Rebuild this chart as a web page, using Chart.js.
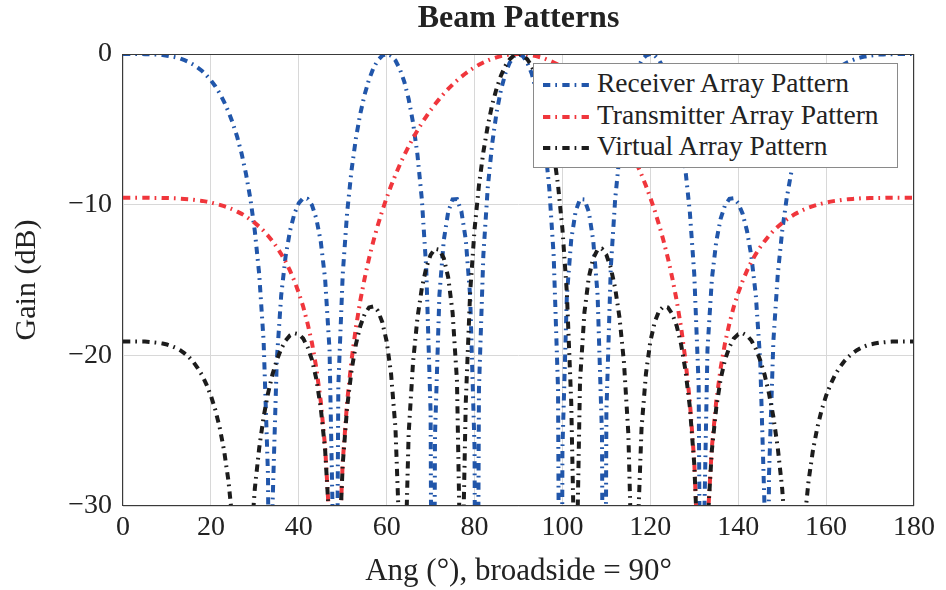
<!DOCTYPE html>
<html>
<head>
<meta charset="utf-8">
<script src="https://cdn.jsdelivr.net/npm/chart.js@4.4.1/dist/chart.umd.min.js"></script>
<style>
html,body{margin:0;padding:0;background:#fff;}
#wrap{position:relative;width:946px;height:590px;}
#legend{position:absolute;left:533px;top:63px;width:365px;height:105px;box-sizing:border-box;border:1px solid #8a8a8a;background:#fff;font-family:'Liberation Serif',serif;font-size:27.5px;color:#222;}
.row{position:absolute;left:0;width:360px;height:30px;}
.row svg{position:absolute;left:9px;top:13px;}
.row span{position:absolute;left:63px;top:-1px;line-height:30px;white-space:nowrap;}
</style>
</head>
<body>
<div id="wrap">
<canvas id="c" width="946" height="590"></canvas>
<div id="legend"></div>
</div>
<script>
// ---- data ----
const angles = [0,1,2,3,4,5,6,7,8,9,10,11,12,13,14,15,16,17,18,19,20,21,22,23,24,25,26,27,28,29,30,31,32,33,34,35,36,37,38,39,40,41,42,43,44,45,46,47,48,49,50,51,52,53,54,55,56,57,58,59,60,61,62,63,64,65,66,67,68,69,70,71,72,73,74,75,76,77,78,79,80,81,82,83,84,85,86,87,88,89,90,91,92,93,94,95,96,97,98,99,100,101,102,103,104,105,106,107,108,109,110,111,112,113,114,115,116,117,118,119,120,121,122,123,124,125,126,127,128,129,130,131,132,133,134,135,136,137,138,139,140,141,142,143,144,145,146,147,148,149,150,151,152,153,154,155,156,157,158,159,160,161,162,163,164,165,166,167,168,169,170,171,172,173,174,175,176,177,178,179,180];

const receiverGain = [
0,0,0,0,0,-0.01,-0.01,-0.03,-0.04,-0.07,
-0.11,-0.16,-0.22,-0.30,-0.41,-0.54,-0.70,-0.90,-1.13,-1.42,
-1.75,-2.14,-2.61,-3.17,-3.83,-4.60,-5.52,-6.62,-7.97,-9.63,
-11.76,-14.63,-19.06,-28.00,-30.20,-20.31,-16.01,-13.44,-11.74,-10.60,
-9.90,-9.57,-9.61,-10.03,-10.93,-12.44,-14.95,-19.63,-35.02,-22.02,
-14.63,-10.53,-7.73,-5.59,-3.96,-2.68,-1.68,-0.93,-0.41,-0.10,
0,-0.11,-0.43,-1.00,-1.83,-2.99,-4.55,-6.67,-9.63,-14.19,
-23.78,-25.29,-15.99,-12.36,-10.48,-9.65,-9.63,-10.44,-12.32,-16.08,
-26.19,-22.26,-13.36,-8.89,-5.97,-3.90,-2.39,-1.30,-0.57,-0.14,
0,
-0.14,-0.57,-1.30,-2.39,-3.90,-5.97,-8.89,-13.36,-22.26,-26.19,
-16.08,-12.32,-10.44,-9.63,-9.65,-10.48,-12.36,-15.99,-25.29,-23.78,
-14.19,-9.63,-6.67,-4.55,-2.99,-1.83,-1.00,-0.43,-0.11,0,
-0.10,-0.41,-0.93,-1.68,-2.68,-3.96,-5.59,-7.73,-10.53,-14.63,
-22.02,-35.02,-19.63,-14.95,-12.44,-10.93,-10.03,-9.61,-9.57,-9.90,
-10.60,-11.74,-13.44,-16.01,-20.31,-30.20,-28.00,-19.06,-14.63,-11.76,
-9.63,-7.97,-6.62,-5.52,-4.60,-3.83,-3.17,-2.61,-2.14,-1.75,
-1.42,-1.13,-0.90,-0.70,-0.54,-0.41,-0.30,-0.22,-0.16,-0.11,
-0.07,-0.04,-0.03,-0.01,-0.01,0,0,0,0,0];

// angles where the receiver pattern drops out of the plotted range (deep nulls)
const receiverNullAngles = [33.6, 48.2, 70.5, 80.4, 99.6, 109.5, 131.8, 146.4];
const nullDepth = -60;

const transmitterGain = [
-9.54,-9.54,-9.54,-9.54,-9.54,-9.54,-9.54,-9.55,-9.55,-9.56,
-9.56,-9.57,-9.58,-9.60,-9.62,-9.64,-9.67,-9.71,-9.75,-9.80,
-9.86,-9.93,-10.01,-10.10,-10.20,-10.32,-10.46,-10.61,-10.79,-10.99,
-11.21,-11.46,-11.74,-12.06,-12.42,-12.82,-13.28,-13.79,-14.38,-15.06,
-15.85,-16.76,-17.88,-19.18,-20.85,-23.05,-26.10,-31.24,-47.10,-34.30,
-27.08,-23.10,-20.33,-18.15,-16.37,-14.87,-13.55,-12.39,-11.35,-10.40,
-9.54,-8.75,-8.02,-7.34,-6.71,-6.13,-5.58,-5.07,-4.59,-4.15,
-3.73,-3.34,-2.98,-2.64,-2.32,-2.03,-1.76,-1.51,-1.28,-1.07,
-0.88,-0.71,-0.56,-0.43,-0.31,-0.22,-0.14,-0.08,-0.03,-0.01,
0,
-0.01,-0.03,-0.08,-0.14,-0.22,-0.31,-0.43,-0.56,-0.71,-0.88,
-1.07,-1.28,-1.51,-1.76,-2.03,-2.32,-2.64,-2.98,-3.34,-3.73,
-4.15,-4.59,-5.07,-5.58,-6.13,-6.71,-7.34,-8.02,-8.75,-9.54,
-10.40,-11.35,-12.39,-13.55,-14.87,-16.37,-18.15,-20.33,-23.10,-27.08,
-34.30,-47.10,-31.24,-26.10,-23.05,-20.85,-19.18,-17.88,-16.76,-15.85,
-15.06,-14.38,-13.79,-13.28,-12.82,-12.42,-12.06,-11.74,-11.46,-11.21,
-10.99,-10.79,-10.61,-10.46,-10.32,-10.20,-10.10,-10.01,-9.93,-9.86,
-9.80,-9.75,-9.71,-9.67,-9.64,-9.62,-9.60,-9.58,-9.57,-9.56,
-9.56,-9.55,-9.55,-9.54,-9.54,-9.54,-9.54,-9.54,-9.54,-9.54];

const virtualGain = [
-19.08,-19.08,-19.08,-19.08,-19.09,-19.09,-19.11,-19.14,-19.17,-19.22,
-19.28,-19.38,-19.50,-19.66,-19.87,-20.12,-20.44,-20.84,-21.32,-21.94,
-22.68,-23.61,-24.79,-26.31,-28.35,-31.24,-36.09,-49.49,-40.40,-32.87,
-28.84,-26.14,-24.08,-22.53,-21.28,-20.32,-19.57,-19.02,-18.68,-18.53,
-18.60,-18.88,-19.45,-20.29,-21.58,-23.48,-26.30,-31.30,-47.10,-34.33,
-27.23,-23.46,-21.01,-19.27,-18.05,-17.26,-16.82,-16.75,-17.05,-17.79,
-19.08,-21.22,-24.83,-32.81,-36.48,-25.22,-20.47,-17.53,-15.54,-14.19,
-13.33,-12.93,-12.99,-13.56,-14.82,-17.16,-21.70,-37.99,-23.13,-15.81,
-11.64,-8.72,-6.51,-4.78,-3.38,-2.30,-1.44,-0.80,-0.35,-0.09,
0,
-0.09,-0.35,-0.80,-1.44,-2.30,-3.38,-4.78,-6.51,-8.72,-11.64,
-15.81,-23.13,-37.99,-21.70,-17.16,-14.82,-13.56,-12.99,-12.93,-13.33,
-14.19,-15.54,-17.53,-20.47,-25.22,-36.48,-32.81,-24.83,-21.22,-19.08,
-17.79,-17.05,-16.75,-16.82,-17.26,-18.05,-19.27,-21.01,-23.46,-27.23,
-34.33,-47.10,-31.30,-26.30,-23.48,-21.58,-20.29,-19.45,-18.88,-18.60,
-18.53,-18.68,-19.02,-19.57,-20.32,-21.28,-22.53,-24.08,-26.14,-28.84,
-32.87,-40.40,-49.49,-36.09,-31.24,-28.35,-26.31,-24.79,-23.61,-22.68,
-21.94,-21.32,-20.84,-20.44,-20.12,-19.87,-19.66,-19.50,-19.38,-19.28,
-19.22,-19.17,-19.14,-19.11,-19.09,-19.09,-19.08,-19.08,-19.08,-19.08];

const seriesNames = ['Receiver Array Pattern', 'Transmitter Array Pattern', 'Virtual Array Pattern'];
const xTickValues = [0, 20, 40, 60, 80, 100, 120, 140, 160, 180];
const xTickLabels = ['0', '20', '40', '60', '80', '100', '120', '140', '160', '180'];
const yTickValues = [0, -10, -20, -30];
const yTickLabels = ['0', '\u221210', '\u221220', '\u221230'];
const chartTitle = 'Beam Patterns';
const xTitle = 'Ang (\u00b0), broadside = 90\u00b0';
const yTitle = 'Gain (dB)';

// ---- styling ----
const FONT = "'Liberation Serif', serif";
const COLORS = ['rgb(33,86,170)', 'rgb(240,54,60)', 'rgb(28,28,28)'];
const DASH = [7.3, 5, 1.7, 5.3];

function points(values, nulls) {
  const p = angles.map((a, i) => ({x: a, y: values[i]}));
  (nulls || []).forEach(a => p.push({x: a, y: nullDepth}));
  p.sort((a, b) => a.x - b.x);
  return p;
}

const framePlugin = {
  id: 'frame',
  afterDraw(chart) {
    const {ctx, chartArea: a} = chart;
    ctx.save();
    ctx.strokeStyle = '#3a3a3a';
    ctx.lineWidth = 1;
    ctx.strokeRect(Math.round(a.left) - 0.5, Math.round(a.top) + 0.5, Math.round(a.right - a.left), Math.round(a.bottom - a.top) - 1);
    ctx.restore();
  }
};

const common = {pointRadius: 0, borderWidth: 4, borderDash: DASH, borderCapStyle: 'butt', fill: false, tension: 0, clip: 0};

new Chart(document.getElementById('c'), {
  type: 'line',
  data: {
    datasets: [
      Object.assign({label: seriesNames[0], data: points(receiverGain, receiverNullAngles), borderColor: COLORS[0], order: 3}, common),
      Object.assign({label: seriesNames[1], data: points(transmitterGain), borderColor: COLORS[1], order: 2}, common),
      Object.assign({label: seriesNames[2], data: points(virtualGain), borderColor: COLORS[2], order: 1}, common)
    ]
  },
  options: {
    responsive: false,
    animation: false,
    devicePixelRatio: 1,
    layout: {padding: {left: 0, right: 32, top: 0, bottom: 0}},
    plugins: {
      legend: {display: false},
      tooltip: {enabled: false},
      title: {display: true, text: chartTitle, fullSize: false, color: '#222',
        font: {family: FONT, size: 32, weight: 'bold'}, padding: {top: 0, bottom: 15.6}}
    },
    scales: {
      x: {
        type: 'linear', min: 0, max: 180,
        afterBuildTicks(s) { s.ticks = xTickValues.map(v => ({value: v})); },
        ticks: {color: '#222', font: {family: FONT, size: 28}, padding: 5, maxRotation: 0, autoSkip: false,
          callback: (v) => xTickLabels[xTickValues.indexOf(v)]},
        grid: {color: '#d8d8d8', lineWidth: 1, drawTicks: false},
        border: {display: false},
        title: {display: true, text: xTitle, color: '#222', font: {family: FONT, size: 31}, padding: {top: 0, bottom: 0}},
        afterFit(s) { s.height = 84; }
      },
      y: {
        min: -30, max: 0,
        afterBuildTicks(s) { s.ticks = yTickValues.map(v => ({value: v})); },
        ticks: {color: '#222', font: {family: FONT, size: 28}, padding: 11,
          callback: (v) => yTickLabels[yTickValues.indexOf(v)]},
        grid: {color: '#d8d8d8', lineWidth: 1, drawTicks: false},
        border: {display: false},
        title: {display: true, text: yTitle, color: '#222', font: {family: FONT, size: 30}, padding: {top: 9, bottom: 0}},
        afterFit(s) { s.width = 123; }
      }
    }
  },
  plugins: [framePlugin]
});

// ---- legend (real text) ----
const legend = document.getElementById('legend');
const rowTops = [5, 36.5, 68];
seriesNames.forEach((name, i) => {
  const row = document.createElement('div');
  row.className = 'row';
  row.style.top = rowTops[i] + 'px';
  row.innerHTML = '<svg width="46" height="6"><line x1="0" y1="3" x2="46" y2="3" stroke="' + COLORS[i] +
    '" stroke-width="4" stroke-dasharray="' + DASH.join(' ') + '"/></svg><span></span>';
  row.querySelector('span').textContent = name;
  legend.appendChild(row);
});
</script>
</body>
</html>
